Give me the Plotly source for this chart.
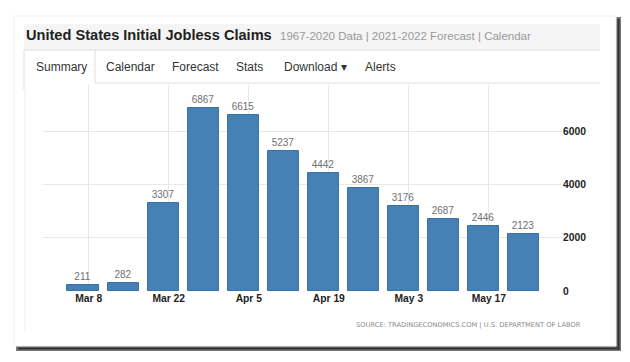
import plotly.graph_objects as go

# page body has an 8px default margin, so the figure is sized to fit inside it
OFF = 8
W, H = 630 - 2 * OFF, 362 - 2 * OFF

weeks = ["2020-03-07", "2020-03-14", "2020-03-21", "2020-03-28", "2020-04-04", "2020-04-11",
         "2020-04-18", "2020-04-25", "2020-05-02", "2020-05-09", "2020-05-16", "2020-05-23"]
claims = [211, 282, 3307, 6867, 6615, 5237, 4442, 3867, 3176, 2687, 2446, 2123]
tick_dates = ["2020-03-08", "2020-03-22", "2020-04-05", "2020-04-19", "2020-05-03", "2020-05-17"]
tick_labels = ["Mar 8", "Mar 22", "Apr 5", "Apr 19", "May 3", "May 17"]
y_ticks = [0, 2000, 4000, 6000]
tabs = ["Summary", "Calendar", "Forecast", "Stats", "Download ▾", "Alerts"]
tab_x = [61.5, 130, 195, 249.5, 315, 380]


def px(x):
    return (x - OFF) / W


def py(y):
    return 1 - (y - OFF) / H


fig = go.Figure()
fig.add_trace(go.Bar(
    x=weeks, y=claims,
    width=5.43 * 86400000,
    marker=dict(color="#4581b4", line=dict(color="#3a72a5", width=1)),
    text=[str(v) for v in claims], textposition="outside",
    textfont=dict(family="Liberation Sans, Arial", size=10, color="#707070"),
    cliponaxis=False,
))

shapes = []
# card shadow
shapes.append(dict(type="rect", xref="paper", yref="paper", x0=px(616), x1=px(621), y0=py(351), y1=py(17),
                   fillcolor="#777777", line=dict(width=0), layer="below"))
shapes.append(dict(type="rect", xref="paper", yref="paper", x0=px(16), x1=px(621), y0=py(351), y1=py(345),
                   fillcolor="#777777", line=dict(width=0), layer="below"))
shapes.append(dict(type="rect", xref="paper", yref="paper", x0=px(617.5), x1=px(619.5), y0=py(349.5), y1=py(19),
                   fillcolor="#333333", line=dict(width=0), layer="below"))
shapes.append(dict(type="rect", xref="paper", yref="paper", x0=px(18), x1=px(619.5), y0=py(349.5), y1=py(347.5),
                   fillcolor="#333333", line=dict(width=0), layer="below"))
# card
shapes.append(dict(type="rect", xref="paper", yref="paper", x0=px(14), x1=px(616), y0=py(346), y1=py(16),
                   fillcolor="white", line=dict(color="#eeeeee", width=1), layer="below"))
# header band
shapes.append(dict(type="rect", xref="paper", yref="paper", x0=px(24), x1=px(600), y0=py(50), y1=py(24),
                   fillcolor="#f5f5f5", line=dict(width=0), layer="below"))
shapes.append(dict(type="line", xref="paper", yref="paper", x0=px(24), x1=px(600), y0=py(50), y1=py(50),
                   line=dict(color="#dddddd", width=1), layer="below"))
# tabs
shapes.append(dict(type="line", xref="paper", yref="paper", x0=px(24), x1=px(24), y0=py(50), y1=py(90),
                   line=dict(color="#dddddd", width=1), layer="below"))
shapes.append(dict(type="line", xref="paper", yref="paper", x0=px(95), x1=px(95), y0=py(50), y1=py(83),
                   line=dict(color="#dddddd", width=1), layer="below"))
shapes.append(dict(type="line", xref="paper", yref="paper", x0=px(95), x1=px(600), y0=py(83), y1=py(83),
                   line=dict(color="#dddddd", width=1), layer="below"))
shapes.append(dict(type="line", xref="paper", yref="paper", x0=px(25), x1=px(25), y0=py(90), y1=py(333),
                   line=dict(color="#f0f0f0", width=1), layer="below"))

annotations = [
    dict(text="<b>United States Initial Jobless Claims</b>", x=px(24), y=py(35), xref="paper", yref="paper",
         xanchor="left", yanchor="middle", showarrow=False,
         font=dict(family="Liberation Sans, Arial", size=14.6, color="#222222")),
    dict(text="1967-2020 Data | 2021-2022 Forecast | Calendar", x=px(278), y=py(36), xref="paper", yref="paper",
         xanchor="left", yanchor="middle", showarrow=False,
         font=dict(family="Liberation Sans, Arial", size=11.5, color="#999999")),
    dict(text="SOURCE: TRADINGECONOMICS.COM | U.S. DEPARTMENT OF LABOR", x=px(583), y=py(325),
         xref="paper", yref="paper", xanchor="right", yanchor="middle", showarrow=False,
         font=dict(family="DejaVu Sans, Arial", size=6.7, color="#888888")),
]
for t, x in zip(tabs, tab_x):
    annotations.append(dict(text=t, x=px(x), y=py(67), xref="paper", yref="paper", xanchor="center",
                            yanchor="middle", showarrow=False,
                            font=dict(family="Liberation Sans, Arial", size=12, color="#333333")))

tick_font = dict(family="Liberation Sans, Arial", size=10.3, color="#222222", weight="bold")

fig.update_layout(
    width=W, height=H, autosize=False,
    margin=dict(l=0, r=0, t=0, b=0),
    paper_bgcolor="white", plot_bgcolor="white",
    template="none", showlegend=False,
    shapes=shapes, annotations=annotations,
    xaxis=dict(domain=[px(43), px(562)], type="date",
               range=["2020-02-29 00:00", "2020-05-29 19:00"],
               tickvals=tick_dates, ticktext=tick_labels,
               showgrid=True, gridcolor="#e8e8e8", gridwidth=1,
               ticks="", tickfont=tick_font,
               showline=False, zeroline=False, automargin=False),
    yaxis=dict(domain=[py(291), py(85)], range=[0, 7725], side="right",
               tickvals=y_ticks, ticktext=[str(v) for v in y_ticks],
               showgrid=True, gridcolor="#e8e8e8", gridwidth=1,
               tickfont=tick_font,
               ticks="", showline=False, zeroline=False, automargin=False),
    bargap=0,
)

fig.write_html("out.html")
